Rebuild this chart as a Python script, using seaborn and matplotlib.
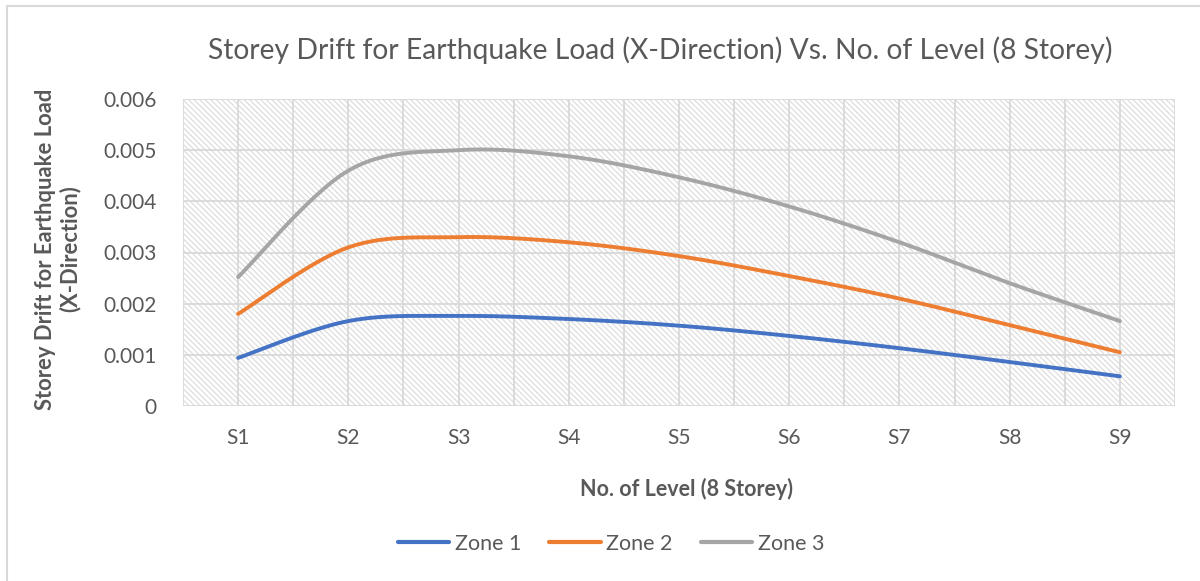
import numpy as np
import pandas as pd
import matplotlib
matplotlib.use("Agg")
import matplotlib.pyplot as plt
from matplotlib.lines import Line2D
from matplotlib.patches import Rectangle
import seaborn as sns

# ---- data ----
levels = ["S1", "S2", "S3", "S4", "S5", "S6", "S7", "S8", "S9"]
zone1 = [0.00094, 0.00166, 0.00176, 0.00170, 0.00157, 0.00137, 0.00113, 0.00086, 0.00058]
zone2 = [0.00180, 0.00310, 0.00330, 0.00320, 0.00293, 0.00254, 0.00210, 0.00158, 0.00105]
zone3 = [0.00252, 0.00460, 0.00500, 0.00488, 0.00447, 0.00390, 0.00320, 0.00240, 0.00166]
series_names = ["Zone 1", "Zone 2", "Zone 3"]
colors = ["#4472C4", "#ED7D31", "#A5A5A5"]
y_ticks = [0, 0.001, 0.002, 0.003, 0.004, 0.005, 0.006]
y_tick_labels = ["0", "0.001", "0.002", "0.003", "0.004", "0.005", "0.006"]
title = "Storey Drift for Earthquake Load (X-Direction) Vs. No. of Level (8 Storey)"
x_label = "No. of Level (8 Storey)"
y_label = "Storey Drift for Earthquake Load\n(X-Direction)"


def smooth(xs, ys, n=30):
    """Excel-style smoothed line: cubic Bezier with Catmull-Rom control points."""
    xs = np.asarray(xs, float)
    ys = np.asarray(ys, float)
    px = np.concatenate([[xs[0]], xs, [xs[-1]]])
    py = np.concatenate([[ys[0]], ys, [ys[-1]]])
    outx, outy = [], []
    t = np.linspace(0, 1, n)
    for i in range(1, len(px) - 2):
        p0 = np.array([px[i], py[i]])
        p3 = np.array([px[i + 1], py[i + 1]])
        c1 = p0 + (np.array([px[i + 1], py[i + 1]]) - np.array([px[i - 1], py[i - 1]])) / 6
        c2 = p3 - (np.array([px[i + 2], py[i + 2]]) - np.array([px[i], py[i]])) / 6
        b = ((1 - t) ** 3)[:, None] * p0 + (3 * (1 - t) ** 2 * t)[:, None] * c1 \
            + (3 * (1 - t) * t ** 2)[:, None] * c2 + (t ** 3)[:, None] * p3
        if i > 1:
            b = b[1:]
        outx.extend(b[:, 0])
        outy.extend(b[:, 1])
    return np.array(outx), np.array(outy)


xpos = np.arange(len(levels))
frames = []
for name, vals in zip(series_names, [zone1, zone2, zone3]):
    sx, sy = smooth(xpos, vals)
    frames.append(pd.DataFrame({"x": sx, "y": sy, "Zone": name}))
df = pd.concat(frames, ignore_index=True)

sns.set_theme(style="white")
plt.rcParams["font.family"] = ["Lato", "DejaVu Sans"]
plt.rcParams["hatch.color"] = "#dadada"
plt.rcParams["hatch.linewidth"] = 0.8

TXT = "#595959"
fig = plt.figure(figsize=(12, 5.81), dpi=100)
ax = fig.add_axes([183 / 1200, 1 - 406 / 581, (1175 - 183) / 1200, (406 - 99) / 581])

# hatched background
ax.add_patch(Rectangle((0, 0), 1, 1, transform=ax.transAxes, facecolor="white",
                       edgecolor="#dadada", hatch="\\\\\\\\\\\\", linewidth=0, zorder=0))

ax.set_xlim(-0.5, len(levels) - 0.5)
ax.set_ylim(0, 0.006)
ax.set_yticks(y_ticks)
ax.set_yticklabels(y_tick_labels)
ax.set_xticks(xpos)
ax.set_xticklabels(levels)
for v in np.arange(-0.5, len(levels), 0.5):
    ax.axvline(v, color="#d9d9d9", lw=1.3, zorder=1)
for v in y_ticks:
    ax.axhline(v, color="#d9d9d9", lw=1.3, zorder=1)

sns.lineplot(data=df, x="x", y="y", hue="Zone", palette=colors, sort=False,
             estimator=None, units="Zone", linewidth=2.8, ax=ax, legend=False, zorder=3)
for ln in ax.lines[-3:]:
    ln.set_solid_capstyle("round")

for s in ax.spines.values():
    s.set_visible(False)
ax.tick_params(axis="both", length=0, labelsize=15, labelcolor=TXT)
ax.tick_params(axis="y", pad=19)
ax.tick_params(axis="x", pad=16)
ax.set_xlabel("")
ax.set_ylabel("")

fig.text(58 / 1200, 1 - 249 / 581, y_label, rotation=90, ha="center", va="center",
         fontsize=15.8, fontweight="bold", color=TXT, linespacing=1.15)
fig.text(686 / 1200, 1 - 489 / 581, x_label, ha="center", va="center",
         fontsize=15.5, fontweight="bold", color=TXT)
fig.text(660 / 1200, 1 - 50 / 581, title, ha="center", va="center",
         fontsize=20.3, color=TXT)

handles = [Line2D([0], [0], color=c, lw=3.0, solid_capstyle="round") for c in colors]
fig.legend(handles, series_names, loc="center", bbox_to_anchor=(611 / 1200, 1 - 544 / 581),
           ncol=3, frameon=False, fontsize=15.5, handlelength=2.4, handletextpad=0.25,
           columnspacing=1.3, labelcolor=TXT)

fig.add_artist(Line2D([7 / 1200, 7 / 1200], [0, 1 - 6 / 581], transform=fig.transFigure,
                      color="#d9d9d9", lw=1.5))
fig.add_artist(Line2D([7 / 1200, 1], [1 - 6 / 581, 1 - 6 / 581], transform=fig.transFigure,
                      color="#d9d9d9", lw=1.5))

fig.savefig("out.png", dpi=100)
